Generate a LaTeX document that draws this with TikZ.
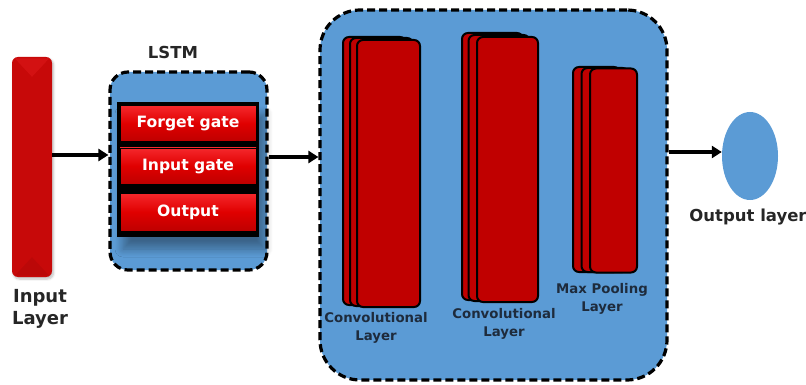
\documentclass[tikz,border=0pt]{standalone}
\usepackage{fontspec}
\setmainfont{DejaVu Sans}
\usetikzlibrary{shapes.geometric,arrows.meta,shadows.blur}

\definecolor{panelblue}{HTML}{5B9BD5}
\definecolor{deepred}{HTML}{C00000}
\definecolor{barred}{HTML}{C70909}
\definecolor{gatered}{HTML}{E00000}
\definecolor{brightred}{HTML}{F5282C}
\definecolor{labelgray}{HTML}{262626}
\definecolor{smallgray}{HTML}{1E2B3C}

\begin{document}
\begin{tikzpicture}[x=1pt,y=-1pt,
  panel/.style={draw=black, line width=3.2pt, dash pattern=on 8pt off 4pt,
                fill=panelblue, rounded corners=#1},
  card/.style={draw=black, line width=2pt, fill=deepred, rounded corners=6pt,
               inner sep=0pt},
  gatebox/.style={draw=black, line width=0.8pt, top color=brightred,
                  bottom color=gatered!85!black, middle color=gatered,
                  minimum width=136pt, minimum height=36pt, inner sep=0pt,
                  text=white, font=\bfseries\fontsize{15.6}{15.6}\selectfont},
  caption/.style={font=\bfseries\fontsize{16.5}{21}\selectfont, text=labelgray,
                  align=center},
  smallcap/.style={font=\bfseries\fontsize{13.3}{17.5}\selectfont, text=smallgray,
                   align=center},
  arrowline/.style={line width=3.4pt, -{Triangle[length=10pt,width=12pt]}}
]
\useasboundingbox (0,0) rectangle (806,385);

% input layer bar with a light bevel on top and a darker one at the bottom
\node[fill=barred, rounded corners=6pt, minimum width=40pt, minimum height=220pt,
      inner sep=0pt, blur shadow={shadow xshift=1.5pt, shadow yshift=-2pt,
      shadow blur steps=6, shadow opacity=25}]
      (inbar) at (32,167) {};
\fill[brightred, opacity=0.28] ([shift={(3,1.5)}]inbar.north west) -- ([shift={(-3,1.5)}]inbar.north east)
      -- ([shift={(0,20)}]inbar.north) -- cycle;
\fill[black, opacity=0.06] ([shift={(3,-1.5)}]inbar.south west) -- ([shift={(-3,-1.5)}]inbar.south east)
      -- ([shift={(0,-20)}]inbar.south) -- cycle;
\node[caption, font=\bfseries\fontsize{18}{22.5}\selectfont] (inlbl) at (40,309) {Input\\Layer};

% LSTM block
\node[panel=18pt, minimum width=157pt, minimum height=198pt, inner sep=0pt]
      (lstm) at (188.5,171) {};
\node[caption] (lstmlbl) at (173,52) {LSTM};
\node[fill=black, minimum width=142pt, minimum height=135pt, inner sep=0pt,
      blur shadow={shadow xshift=6pt, shadow yshift=-12pt, shadow blur steps=10,
      shadow blur radius=8pt, shadow opacity=35}]
      (gates) at (188,169.5) {};
\node[gatebox] (forget) at (188,123.5) {Forget gate};
\node[gatebox] (ingate) at (188,166) {Input gate};
\node[gatebox, minimum height=38pt] (outgate) at (188,212) {Output};

% CNN block
\node[panel=40pt, minimum width=347pt, minimum height=370pt, inner sep=0pt]
      (cnn) at (493.5,195) {};

% stacked feature maps: back, middle, front
\node[card, minimum width=63pt, minimum height=268pt] (c1back) at (374.5,171) {};
\node[card, minimum width=63pt, minimum height=268pt] (c1mid)  at (381.5,172) {};
\node[card, minimum width=63pt, minimum height=267pt] (conv1)  at (388.5,173.5) {};
\node[smallcap] (conv1lbl) at (376,328) {Convolutional\\Layer};

\node[card, minimum width=61pt, minimum height=267pt] (c2back) at (492.5,166.5) {};
\node[card, minimum width=61pt, minimum height=266pt] (c2mid)  at (499,168) {};
\node[card, minimum width=61pt, minimum height=265pt] (conv2)  at (507.5,169.5) {};
\node[smallcap] (conv2lbl) at (504,324) {Convolutional\\Layer};

\node[card, minimum width=47pt, minimum height=205pt] (p1back) at (596.5,169.5) {};
\node[card, minimum width=47pt, minimum height=204pt] (p1mid)  at (605,170) {};
\node[card, minimum width=47pt, minimum height=204pt] (pool)   at (613.5,170.5) {};
\node[smallcap] (poollbl) at (602,299) {Max Pooling\\Layer};

% output layer
\node[ellipse, fill=panelblue, minimum width=56pt, minimum height=88pt, inner sep=0pt]
      (outl) at (750,156) {};
\node[caption] (outlbl) at (748,217) {Output layer};

% connectors
\coordinate (lvlA) at (0,155);
\coordinate (lvlB) at (0,157);
\coordinate (lvlC) at (0,152);
\draw[arrowline] (inbar.east |- lvlA) -- (lstm.west |- lvlA);
\draw[arrowline] (lstm.east |- lvlB) -- (cnn.west |- lvlB);
\draw[arrowline] (cnn.east |- lvlC) -- (outl.west |- lvlC);
\end{tikzpicture}
\end{document}
